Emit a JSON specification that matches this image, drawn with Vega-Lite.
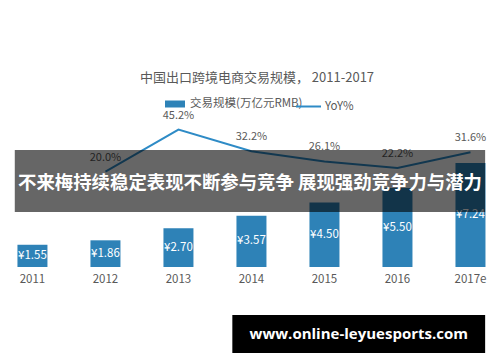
{
  "$schema": "https://vega.github.io/schema/vega-lite/v6.json",
  "width": 500,
  "height": 249,
  "autosize": "none",
  "padding": {"top": 113, "left": 0, "right": 0, "bottom": 0},
  "background": "white",
  "config": {"font": "Noto Sans CJK SC", "view": {"stroke": null}},
  "title": {"text": "中国出口跨境电商交易规模， 2011-2017", "fontSize": 13, "fontWeight": "normal", "color": "#595959", "anchor": "middle", "dx": 7, "offset": 8},
  "data": {"values": [
    {"year": 2011, "label": "2011", "value": 1.55, "yoy": null},
    {"year": 2012, "label": "2012", "value": 1.86, "yoy": 0.200},
    {"year": 2013, "label": "2013", "value": 2.70, "yoy": 0.452},
    {"year": 2014, "label": "2014", "value": 3.57, "yoy": 0.322},
    {"year": 2015, "label": "2015", "value": 4.50, "yoy": 0.261},
    {"year": 2016, "label": "2016", "value": 5.50, "yoy": 0.222},
    {"year": 2017, "label": "2017e", "value": 7.24, "yoy": 0.316}
  ]},
  "layer": [
    {
      "transform": [
        {"calculate": "datum.value / 2", "as": "mid"},
        {"calculate": "'¥' + format(datum.value, '.2f')", "as": "valueText"}
      ],
      "encoding": {
        "x": {"field": "year", "type": "quantitative", "scale": {"domain": [2010.624, 2017.336], "nice": false, "zero": false}, "axis": null},
        "y": {"type": "quantitative", "scale": {"domain": [-6.62, 10.732], "nice": false, "zero": false}, "axis": null}
      },
      "layer": [
        {
          "mark": {"type": "bar", "width": 30},
          "encoding": {
            "y": {"field": "value", "type": "quantitative"},
            "y2": {"datum": 0},
            "fill": {"datum": "交易规模(万亿元RMB)", "type": "nominal", "scale": {"range": ["#2e82b7"]},
              "legend": {"title": null, "orient": "none", "legendX": 165, "legendY": -19, "symbolType": "M-1,-0.35L1,-0.35L1,0.35L-1,0.35Z", "symbolSize": 400, "symbolStrokeWidth": 0, "labelFontSize": 11.5, "labelColor": "#595959", "labelOffset": 5, "padding": 0}}
          }
        },
        {
          "mark": {"type": "text", "color": "white", "fontSize": 11.5, "baseline": "middle"},
          "encoding": {
            "y": {"field": "mid", "type": "quantitative"},
            "text": {"field": "valueText"}
          }
        },
        {
          "mark": {"type": "text", "color": "#595959", "fontSize": 11.5, "baseline": "middle"},
          "encoding": {
            "y": {"datum": -0.906},
            "text": {"field": "label"}
          }
        }
      ]
    },
    {
      "transform": [{"filter": "datum.yoy != null"}],
      "encoding": {
        "x": {"field": "year", "type": "quantitative"},
        "y": {"type": "quantitative", "scale": {"domain": [-0.9418, 0.5519], "nice": false, "zero": false}, "axis": null}
      },
      "layer": [
        {
          "mark": {"type": "line", "strokeWidth": 2},
          "encoding": {
            "y": {"field": "yoy", "type": "quantitative"},
            "stroke": {"datum": "YoY%", "type": "nominal", "scale": {"range": ["#2e8bc6"]},
              "legend": {"title": null, "orient": "none", "legendX": 295, "legendY": -20, "symbolType": "stroke", "symbolSize": 625, "symbolStrokeWidth": 2, "labelFontSize": 11.5, "labelColor": "#595959", "labelOffset": 3, "padding": 0}}
          }
        },
        {
          "mark": {"type": "text", "color": "#595959", "fontSize": 11, "baseline": "middle", "dy": -14},
          "encoding": {
            "y": {"field": "yoy", "type": "quantitative"},
            "text": {"field": "yoy", "format": ".1%"}
          }
        }
      ]
    },
    {
      "encoding": {
        "y": {"type": "quantitative", "scale": {"domain": [-6.62, 10.732], "nice": false, "zero": false}, "axis": null}
      },
      "layer": [
        {
          "data": {"values": [{"note": "banner"}]},
          "mark": {"type": "rect", "color": "black", "opacity": 0.6},
          "encoding": {
            "x": {"datum": 2010.758, "type": "quantitative"},
            "x2": {"datum": 2017.201},
            "y": {"datum": 8.153},
            "y2": {"datum": 3.833}
          }
        },
        {
          "data": {"values": [{"note": "不来梅持续稳定表现不断参与竞争 展现强劲竞争力与潜力"}]},
          "mark": {"type": "text", "color": "white", "fontSize": 18.4, "fontWeight": "bold", "baseline": "middle", "align": "center"},
          "encoding": {
            "x": {"datum": 2013.98, "type": "quantitative"},
            "y": {"datum": 5.854},
            "text": {"field": "note"}
          }
        },
        {
          "data": {"values": [{"note": "watermark"}]},
          "mark": {"type": "rect", "color": "black"},
          "encoding": {
            "x": {"datum": 2013.738, "type": "quantitative"},
            "x2": {"datum": 2017.201},
            "y": {"datum": -3.345},
            "y2": {"datum": -5.993}
          }
        },
        {
          "data": {"values": [{"note": "www.online-leyuesports.com"}]},
          "mark": {"type": "text", "color": "white", "fontSize": 15, "fontWeight": "bold", "baseline": "middle", "align": "center", "font": "Open Sans"},
          "encoding": {
            "x": {"datum": 2015.47, "type": "quantitative"},
            "y": {"datum": -4.669},
            "text": {"field": "note"}
          }
        }
      ]
    }
  ],
  "resolve": {"scale": {"y": "independent", "fill": "independent", "stroke": "independent"}}
}
